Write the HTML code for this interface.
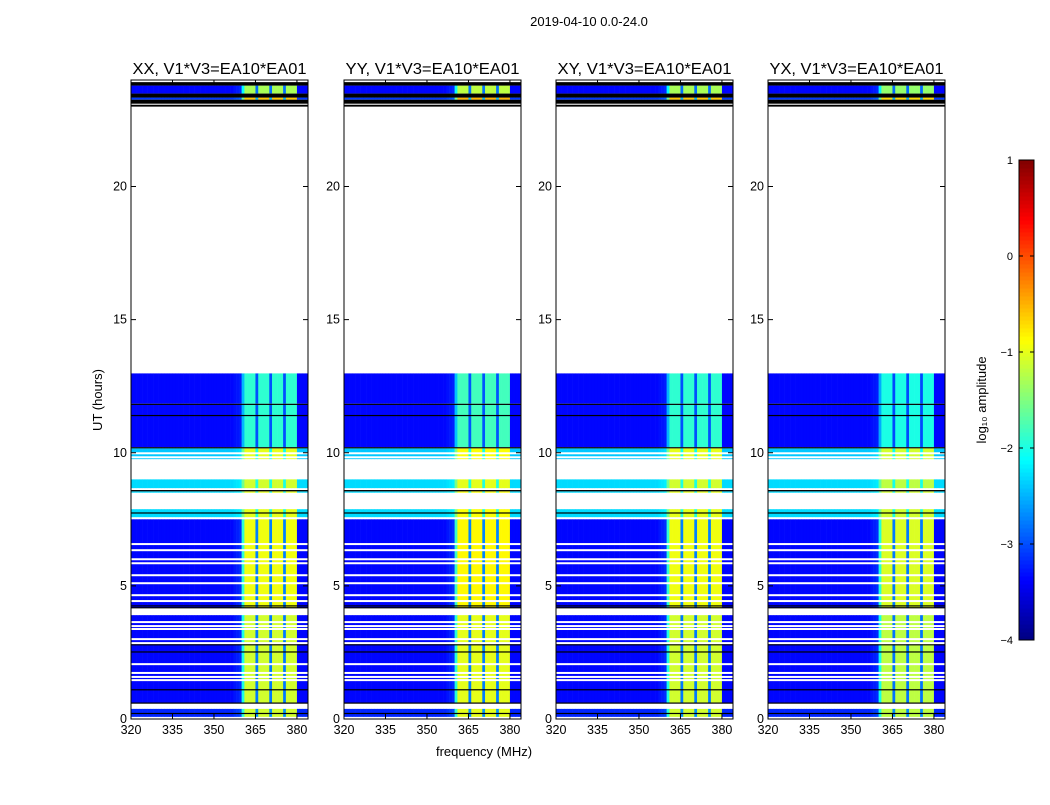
<!DOCTYPE html>
<html><head><meta charset="utf-8"><style>
body{margin:0;background:#fff;}
svg text{font-family:"Liberation Sans",sans-serif;}
</style></head><body>
<svg id="fig" width="1050" height="800" xmlns="http://www.w3.org/2000/svg">
<text x="589" y="26" font-size="13" text-anchor="middle">2019-04-10 0.0-24.0</text>
<text transform="translate(102,400) rotate(-90)" font-size="13" text-anchor="middle">UT (hours)</text>
<text x="484" y="756" font-size="13" text-anchor="middle">frequency (MHz)</text>
<g id="panels"></g>
<g id="cbar"></g>
</svg>
<script>
// ---- data ----
const panelTitles = ["XX, V1*V3=EA10*EA01","YY, V1*V3=EA10*EA01","XY, V1*V3=EA10*EA01","YX, V1*V3=EA10*EA01"];
const panelBandOffset = [0.0, 0.1, 0.0, -0.1];
const channels = []; for (let f = 320; f < 384; f++) channels.push(f);
const bandProfile = [0,0,0,0,0,0,0,0,0,0, 0,0,0,0,0,0,0,0,0,0, 0,0,0,0,0,0,0,0,0,0, 0,0,0,0,0,0,0,0.03,0.05,0.08, 0.6,1,1,1,1,0.25,1,1,1,1, 0.25,1,1,1,1,0.25,1,1,1,1, 0,0,0,0];
// [startHour, endHour, backgroundLog, bandLog]
const segStart = [23.49, 23.26, 11.84, 10.21, 9.76, 8.67, 8.50, 7.58, 4.17, 0.62, 0.08];
const segEnd   = [23.79, 23.34, 12.98, 11.80, 10.17, 9.00, 8.55, 7.88, 7.50, 3.90, 0.38];
const segBg    = [-3.35, -3.1, -3.35, -3.35, -2.4, -2.3, -2.3, -2.3, -3.35, -3.35, -3.2];
const segBand  = [-1.3, -0.6, -1.9, -1.9, -1.0, -1.1, -1.0, -1.0, -0.95, -1.1, -1.1];
const blackLines = [[23.92,23.79],[23.34,23.49],[23.11,23.26],[23.0,23.07],[11.80,11.84],[11.38,11.42],[10.17,10.21],[8.55,8.60],[7.73,7.76],[4.24,4.27],[4.17,4.20],[2.78,2.81],[2.51,2.54],[1.09,1.12],[0.60,0.62],[0.21,0.23]];
const whiteLines = [9.98, 9.83, 6.57, 6.34, 6.0, 5.85, 5.4, 5.1, 4.65, 4.43, 3.64, 3.49, 3.38, 3.0, 2.85, 2.06, 1.73, 1.58, 1.46];
const xTicks = [320,335,350,365,380];
const yTicks = [0,5,10,15,20];
const cbarTicks = [1,0,-1,-2,-3,-4];
// ---- layout ----
const panelX0 = [131,344,556,768], panelW = 177, pTop = 80, pBot = 719;
const fMin = 320, fMax = 384, hMin = 0, hMax = 24, vMin = -4, vMax = 1;
const NS = "http://www.w3.org/2000/svg";
function el(tag, attrs, parent){const e=document.createElementNS(NS,tag);for(const k in attrs)e.setAttribute(k,attrs[k]);parent.appendChild(e);return e;}
function jet(v){let t=(v-vMin)/(vMax-vMin);t=Math.max(0,Math.min(1,t));const c=x=>Math.round(255*Math.max(0,Math.min(1,x)));return `rgb(${c(1.5-Math.abs(4*t-3))},${c(1.5-Math.abs(4*t-2))},${c(1.5-Math.abs(4*t-1))})`;}
const Y = h => pBot - (h-hMin)/(hMax-hMin)*(pBot-pTop);
const panels = document.getElementById('panels');
panelX0.forEach((x0,p)=>{
  const X = f => x0 + (f-fMin)/(fMax-fMin)*panelW;
  const g = el('g',{},panels);
  
  
  const t = el('text',{x:x0+panelW/2,y:74,'font-size':15.5,'text-anchor':'middle',textLength:174,lengthAdjust:'spacingAndGlyphs'},g); t.textContent=panelTitles[p];
  
  
  segStart.forEach((s,i)=>{
    channels.forEach((f,j)=>{
      const v = segBg[i] + bandProfile[j]*(segBand[i]+panelBandOffset[p]-segBg[i]);
      const r = el('rect',{x:X(f),y:Y(segEnd[i]),width:X(f+1)-X(f)+0.3,height:Y(segStart[i])-Y(segEnd[i]),fill:jet(v)},g);
      
      
    });
  });
  blackLines.forEach(b=>{const r=el('rect',{x:x0,y:Y(Math.max(b[0],b[1])),width:panelW,height:Math.max(1.2,Math.abs(Y(b[0])-Y(b[1]))),fill:'#000'},g);
    
    });
  whiteLines.forEach(h=>{const r=el('rect',{x:x0,y:Y(h)-1,width:panelW,height:2,fill:'#fff'},g);
    
    });
  const fr = el('rect',{x:x0,y:pTop,width:panelW,height:pBot-pTop,fill:'none',stroke:'#000','stroke-width':1},g);
  
  
  xTicks.forEach(v=>{const x=X(v);
    el('line',{x1:x,x2:x,y1:pBot,y2:pBot-5,stroke:'#000'},g);el('line',{x1:x,x2:x,y1:pTop,y2:pTop+5,stroke:'#000'},g);
    const tx=el('text',{x:x,y:pBot+15,'font-size':12.5,'text-anchor':'middle'},g);tx.textContent=v;
    
    });
  yTicks.forEach(v=>{const y=Y(v);
    el('line',{x1:x0,x2:x0+5,y1:y,y2:y,stroke:'#000'},g);el('line',{x1:x0+panelW,x2:x0+panelW-5,y1:y,y2:y,stroke:'#000'},g);
    const ty=el('text',{x:x0-4,y:y+4,'font-size':12.5,'text-anchor':'end'},g);ty.textContent=v;
    
    });
});
// colorbar
const cb = document.getElementById('cbar');


const cbX=1019, cbW=15, cbT=160, cbB=640;
const CY = v => cbB - (v-vMin)/(vMax-vMin)*(cbB-cbT);
for(let i=0;i<120;i++){const v0=vMin+i*(vMax-vMin)/120, v1=vMin+(i+1)*(vMax-vMin)/120;
  el('rect',{x:cbX,y:CY(v1),width:cbW,height:CY(v0)-CY(v1)+0.5,fill:jet((v0+v1)/2)},cb);}
el('rect',{x:cbX,y:cbT,width:cbW,height:cbB-cbT,fill:'none',stroke:'#000'},cb);
cbarTicks.forEach(v=>{const y=CY(v);
  el('line',{x1:cbX,x2:cbX+4,y1:y,y2:y,stroke:'#000'},cb);el('line',{x1:cbX+cbW,x2:cbX+cbW-4,y1:y,y2:y,stroke:'#000'},cb);
  const t=el('text',{x:1013,y:y+4,'font-size':11,'text-anchor':'end'},cb);t.textContent=(v<0?'\u2212'+(-v):v);
  
  });
const cl=el('text',{transform:'translate(986,400) rotate(-90)','font-size':13,'text-anchor':'middle'},cb);
cl.textContent='log\u2081\u2080 amplitude';


</script>
</body></html>
